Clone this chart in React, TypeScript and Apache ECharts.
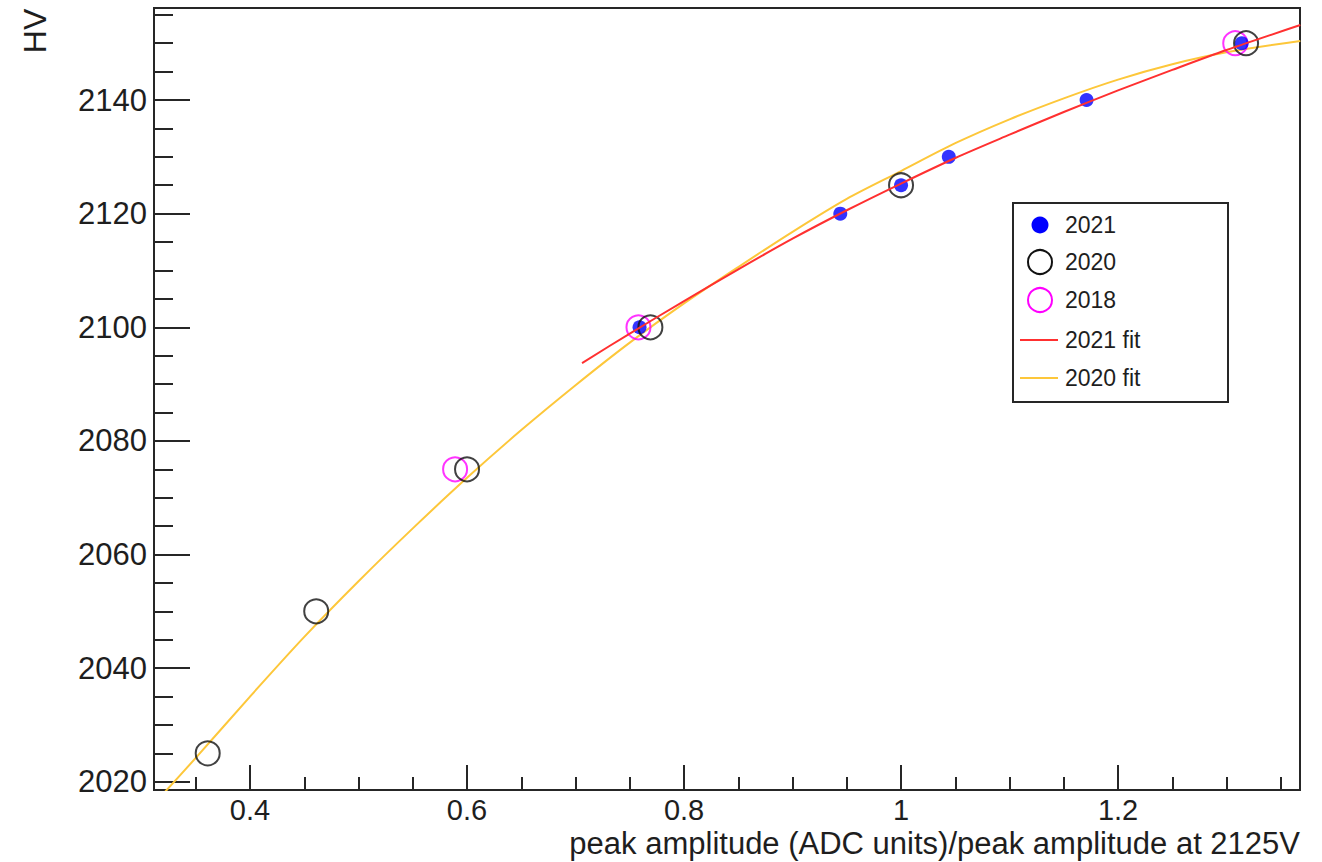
import { useEffect, useRef } from "react";
import * as echarts from "echarts";

const FONT = "'Liberation Sans', Arial, Helvetica, sans-serif";

// Axis ranges and tick values
const X_MIN = 0.3115;
const X_MAX = 1.3677;
const Y_MIN = 2018.55;
const Y_MAX = 2156.2;
const xMajorTicks = [0.4, 0.6, 0.8, 1, 1.2];
const xMinorTicks = [0.35, 0.45, 0.5, 0.55, 0.65, 0.7, 0.75, 0.85, 0.9, 0.95, 1.05, 1.1, 1.15, 1.25, 1.3, 1.35];
const yMajorTicks = [2020, 2040, 2060, 2080, 2100, 2120, 2140];
const yMinorTicks = [2025, 2030, 2035, 2045, 2050, 2055, 2065, 2070, 2075, 2085, 2090, 2095, 2105, 2110, 2115, 2125, 2130, 2135, 2145, 2150, 2155];

// Measured points
const amp2021 = [0.759, 0.944, 1.0, 1.044, 1.171, 1.314];
const hv2021 = [2100, 2120, 2125, 2130, 2140, 2150];
const amp2020 = [0.361, 0.461, 0.6, 0.769, 1.0, 1.318];
const hv2020 = [2025, 2050, 2075, 2100, 2125, 2150];
const amp2018 = [0.589, 0.758, 1.308];
const hv2018 = [2075, 2100, 2150];

// Fit curves
const fit2021Amp = [0.706, 0.75, 0.8, 0.85, 0.9, 0.95, 1.0, 1.05, 1.1, 1.15, 1.2, 1.25, 1.3, 1.368];
const fit2021Hv = [2093.7, 2098.9, 2104.6, 2110.2, 2115.6, 2120.6, 2125.3, 2129.8, 2133.9, 2137.9, 2141.7, 2145.3, 2148.8, 2153.2];
const fit2020Amp = [0.312, 0.35, 0.4, 0.45, 0.5, 0.55, 0.6, 0.65, 0.7, 0.75, 0.8, 0.85, 0.9, 0.95, 1.0, 1.05, 1.1, 1.15, 1.2, 1.25, 1.3, 1.368];
const fit2020Hv = [2016.2, 2024.2, 2035.0, 2045.5, 2055.3, 2064.6, 2073.5, 2081.9, 2089.8, 2097.3, 2104.2, 2110.6, 2116.8, 2122.6, 2127.5, 2132.4, 2136.6, 2140.3, 2143.6, 2146.3, 2148.4, 2150.4];

const legendLabels = ["2021", "2020", "2018", "2021 fit", "2020 fit"];

const zip = (xs: number[], ys: number[]) => xs.map((x, i) => [x, ys[i]]);

const AXIS_COLOR = "#262626";
const RED = "#ff3030";
const YELLOW = "#fdc73a";

export default function App() {
  const ref = useRef<HTMLDivElement>(null);

  useEffect(() => {
    const chart = echarts.init(ref.current!, null, { renderer: "svg" });

    const legendY = [225, 262, 300, 340, 378];

    chart.setOption({
      animation: false,
      backgroundColor: "#ffffff",
      grid: {
        left: 154,
        top: 8,
        right: 22,
        bottom: 72,
        show: true,
        borderColor: AXIS_COLOR,
        borderWidth: 2,
        backgroundColor: "transparent",
      },
      xAxis: [
        {
          type: "value",
          min: X_MIN,
          max: X_MAX,
          position: "bottom",
          axisLine: { show: true, lineStyle: { color: AXIS_COLOR, width: 2 } },
          axisTick: {
            show: true,
            inside: true,
            length: 25,
            customValues: xMajorTicks,
            lineStyle: { color: AXIS_COLOR, width: 2 },
          },
          axisLabel: {
            customValues: xMajorTicks,
            formatter: (v: number) => String(v),
            fontSize: 29,
            lineHeight: 24,
            fontFamily: FONT,
            color: "#1e1e1e",
            margin: 8,
          },
          splitLine: { show: false },
        },
        {
          type: "value",
          min: X_MIN,
          max: X_MAX,
          position: "bottom",
          axisLine: { show: false },
          axisTick: {
            show: true,
            inside: true,
            length: 13,
            customValues: xMinorTicks,
            lineStyle: { color: AXIS_COLOR, width: 2 },
          },
          axisLabel: { show: false },
          splitLine: { show: false },
        },
      ],
      yAxis: [
        {
          type: "value",
          min: Y_MIN,
          max: Y_MAX,
          position: "left",
          axisLine: { show: true, lineStyle: { color: AXIS_COLOR, width: 2 } },
          axisTick: {
            show: true,
            inside: true,
            length: 36,
            customValues: yMajorTicks,
            lineStyle: { color: AXIS_COLOR, width: 2 },
          },
          axisLabel: {
            customValues: yMajorTicks,
            formatter: (v: number) => String(v),
            fontSize: 31,
            fontFamily: FONT,
            color: "#1e1e1e",
            margin: 7,
          },
          splitLine: { show: false },
        },
        {
          type: "value",
          min: Y_MIN,
          max: Y_MAX,
          position: "left",
          axisLine: { show: false },
          axisTick: {
            show: true,
            inside: true,
            length: 19,
            customValues: yMinorTicks,
            lineStyle: { color: AXIS_COLOR, width: 2 },
          },
          axisLabel: { show: false },
          splitLine: { show: false },
        },
      ],
      series: [
        {
          name: "2020 fit",
          type: "line",
          xAxisIndex: 0,
          yAxisIndex: 0,
          data: zip(fit2020Amp, fit2020Hv),
          symbol: "none",
          smooth: 0.3,
          clip: true,
          silent: true,
          lineStyle: { color: YELLOW, width: 2 },
          z: 2,
        },
        {
          name: "2018",
          type: "scatter",
          xAxisIndex: 0,
          yAxisIndex: 0,
          data: zip(amp2018, hv2018),
          symbol: "circle",
          symbolSize: 24,
          silent: true,
          itemStyle: { color: "rgba(0,0,0,0)", borderColor: "#ff00ff", borderWidth: 2 },
          z: 3,
        },
        {
          name: "2021",
          type: "scatter",
          xAxisIndex: 0,
          yAxisIndex: 0,
          data: zip(amp2021, hv2021),
          symbol: "circle",
          symbolSize: 14,
          silent: true,
          itemStyle: { color: "#0000ff" },
          z: 4,
        },
        {
          name: "2020",
          type: "scatter",
          xAxisIndex: 0,
          yAxisIndex: 0,
          data: zip(amp2020, hv2020),
          symbol: "circle",
          symbolSize: 24,
          silent: true,
          itemStyle: { color: "rgba(0,0,0,0)", borderColor: "#111111", borderWidth: 2 },
          z: 5,
        },
        {
          name: "2021 fit",
          type: "line",
          xAxisIndex: 0,
          yAxisIndex: 0,
          data: zip(fit2021Amp, fit2021Hv),
          symbol: "none",
          smooth: 0.3,
          clip: true,
          silent: true,
          lineStyle: { color: RED, width: 2 },
          z: 6,
        },
      ],
      graphic: [
        {
          type: "text",
          x: 35,
          y: 31,
          rotation: Math.PI / 2,
          style: {
            text: "HV",
            fontSize: 32,
            fontFamily: FONT,
            fill: "#1e1e1e",
            align: "center",
            verticalAlign: "middle",
          },
        },
        {
          type: "text",
          x: 1300,
          y: 843,
          style: {
            text: "peak amplitude (ADC units)/peak amplitude at 2125V",
            fontSize: 31,
            lineHeight: 28,
            fontFamily: FONT,
            fill: "#1e1e1e",
            align: "right",
            verticalAlign: "middle",
          },
        },
        {
          type: "group",
          z: 100,
          children: [
            {
              type: "rect",
              shape: { x: 1013, y: 203, width: 215, height: 199 },
              style: { fill: "#ffffff", stroke: AXIS_COLOR, lineWidth: 2 },
            },
            {
              type: "circle",
              shape: { cx: 1040, cy: legendY[0], r: 8.5 },
              style: { fill: "#0000ff" },
            },
            {
              type: "circle",
              shape: { cx: 1040, cy: legendY[1], r: 12 },
              style: { fill: "none", stroke: "#111111", lineWidth: 2 },
            },
            {
              type: "circle",
              shape: { cx: 1040, cy: legendY[2], r: 12 },
              style: { fill: "none", stroke: "#ff00ff", lineWidth: 2 },
            },
            {
              type: "line",
              shape: { x1: 1020, y1: legendY[3], x2: 1058, y2: legendY[3] },
              style: { stroke: RED, lineWidth: 2 },
            },
            {
              type: "line",
              shape: { x1: 1020, y1: legendY[4], x2: 1058, y2: legendY[4] },
              style: { stroke: YELLOW, lineWidth: 2 },
            },
            ...legendLabels.map((label, i) => ({
              type: "text",
              x: 1065,
              y: legendY[i],
              style: {
                text: label,
                fontSize: 23,
                fontFamily: FONT,
                fill: "#1e1e1e",
                align: "left",
                verticalAlign: "middle",
              },
            })),
          ],
        },
      ],
    });

    return () => chart.dispose();
  }, []);

  return (
    <div
      ref={ref}
      style={{ position: "fixed", left: 0, top: 0, width: 1322, height: 862, background: "#fff" }}
    />
  );
}
